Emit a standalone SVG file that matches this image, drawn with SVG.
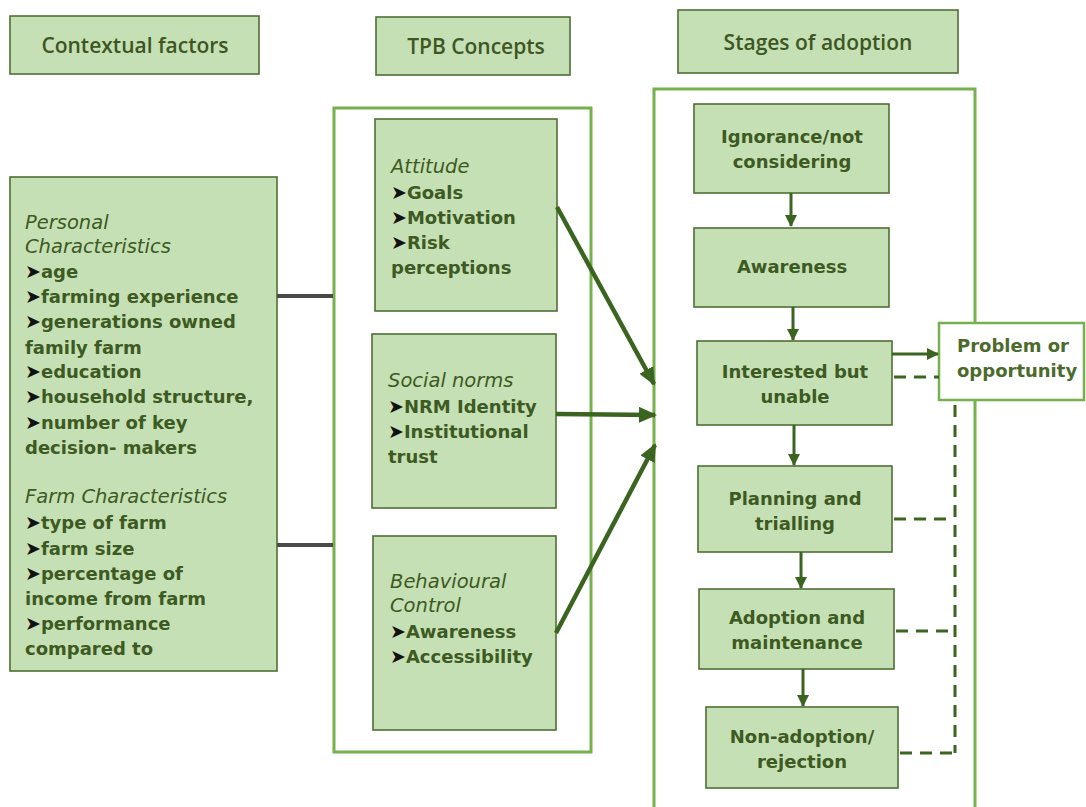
<svg xmlns="http://www.w3.org/2000/svg" width="1086" height="807" viewBox="0 0 1086 807">
<style>
.box{fill:#c5e0b4;stroke:#4f6f34;stroke-width:1.6}
.frame{fill:none;stroke:#76b04f;stroke-width:3}
.hdr{font-family:"Open Sans","Liberation Sans",sans-serif;font-size:21px;font-weight:600;fill:#3d5623;text-anchor:middle}
.t{font-family:"DejaVu Sans","Liberation Sans",sans-serif;font-size:18px;font-weight:bold;fill:#3d5a22}
.i{font-family:"DejaVu Sans","Liberation Sans",sans-serif;font-size:19.5px;font-style:italic;fill:#3d5a22}
.c{text-anchor:middle}
.b{fill:#111111;font-size:19px}
.gray{stroke:#4a4a4a;stroke-width:4;fill:none}
.big{stroke:#3b6420;stroke-width:4.5;fill:none}
.sm{stroke:#3b6420;stroke-width:3;fill:none}
.dash{stroke:#3b6420;stroke-width:3;fill:none;stroke-dasharray:12 8}
</style>
<defs>
<marker id="ah" markerUnits="userSpaceOnUse" markerWidth="18" markerHeight="16" refX="16" refY="8" orient="auto">
<path d="M0,0 L18,8 L0,16 Z" fill="#3b6420"/>
</marker>
<marker id="as" markerUnits="userSpaceOnUse" markerWidth="12" markerHeight="12" refX="11" refY="6" orient="auto">
<path d="M0,0 L12,6 L0,12 Z" fill="#3b6420"/>
</marker>
</defs>
<rect width="1086" height="807" fill="#ffffff"/>

<g id="hdr-context"><rect class="box" x="10" y="16" width="249" height="58"/><text class="hdr" x="135" y="53">Contextual factors</text></g>
<g id="hdr-tpb"><rect class="box" x="376" y="17" width="194" height="58"/><text class="hdr" x="476" y="54">TPB Concepts</text></g>
<g id="hdr-stages"><rect class="box" x="678" y="10" width="280" height="63"/><text class="hdr" x="818" y="50">Stages of adoption</text></g>

<g id="frame-tpb"><rect class="frame" x="334" y="108" width="257" height="644"/></g>
<g id="frame-stages"><path class="frame" d="M654,809 L654,89 L975,89 L975,809"/></g>

<g id="contextual">
<rect class="box" x="10" y="177" width="267" height="494"/>
<text class="i" x="25" y="229">Personal</text>
<text class="i" x="25" y="253">Characteristics</text>
<text class="t" x="25" y="278"><tspan class="b">➤</tspan>age</text>
<text class="t" x="25" y="303"><tspan class="b">➤</tspan>farming experience</text>
<text class="t" x="25" y="328"><tspan class="b">➤</tspan>generations owned</text>
<text class="t" x="25" y="354">family farm</text>
<text class="t" x="25" y="378"><tspan class="b">➤</tspan>education</text>
<text class="t" x="25" y="403"><tspan class="b">➤</tspan>household structure,</text>
<text class="t" x="25" y="429"><tspan class="b">➤</tspan>number of key</text>
<text class="t" x="25" y="454">decision- makers</text>
<text class="i" x="25" y="503">Farm Characteristics</text>
<text class="t" x="25" y="529"><tspan class="b">➤</tspan>type of farm</text>
<text class="t" x="25" y="555"><tspan class="b">➤</tspan>farm size</text>
<text class="t" x="25" y="580"><tspan class="b">➤</tspan>percentage of</text>
<text class="t" x="25" y="605">income from farm</text>
<text class="t" x="25" y="630"><tspan class="b">➤</tspan>performance</text>
<text class="t" x="25" y="655">compared to</text>
</g>

<g id="attitude">
<rect class="box" x="375" y="119" width="182" height="192"/>
<text class="i" x="391" y="173">Attitude</text>
<text class="t" x="391" y="199"><tspan class="b">➤</tspan>Goals</text>
<text class="t" x="391" y="224"><tspan class="b">➤</tspan>Motivation</text>
<text class="t" x="391" y="249"><tspan class="b">➤</tspan>Risk</text>
<text class="t" x="391" y="274">perceptions</text>
</g>

<g id="social-norms">
<rect class="box" x="372" y="334" width="184" height="174"/>
<text class="i" x="388" y="387">Social  norms</text>
<text class="t" x="388" y="413"><tspan class="b">➤</tspan>NRM Identity</text>
<text class="t" x="388" y="438"><tspan class="b">➤</tspan>Institutional</text>
<text class="t" x="388" y="463">trust</text>
</g>

<g id="behavioural-control">
<rect class="box" x="373" y="536" width="183" height="194"/>
<text class="i" x="390" y="588">Behavioural</text>
<text class="i" x="390" y="612">Control</text>
<text class="t" x="390" y="638"><tspan class="b">➤</tspan>Awareness</text>
<text class="t" x="390" y="663"><tspan class="b">➤</tspan>Accessibility</text>
</g>

<g id="ignorance">
<rect class="box" x="694" y="104" width="195" height="89"/>
<text class="t c" x="792" y="143">Ignorance/not</text>
<text class="t c" x="792" y="168">considering</text>
</g>
<g id="awareness">
<rect class="box" x="694" y="228" width="195" height="79"/>
<text class="t c" x="792" y="273">Awareness</text>
</g>
<g id="interested">
<rect class="box" x="697" y="341" width="195" height="84"/>
<text class="t c" x="795" y="378">Interested but</text>
<text class="t c" x="795" y="403">unable</text>
</g>
<g id="planning">
<rect class="box" x="698" y="466" width="194" height="86"/>
<text class="t c" x="795" y="505">Planning and</text>
<text class="t c" x="795" y="530">trialling</text>
</g>
<g id="adoption">
<rect class="box" x="699" y="589" width="195" height="80"/>
<text class="t c" x="797" y="624">Adoption and</text>
<text class="t c" x="797" y="649">maintenance</text>
</g>
<g id="non-adoption">
<rect class="box" x="706" y="707" width="192" height="81"/>
<text class="t c" x="802" y="743">Non-adoption/</text>
<text class="t c" x="802" y="768">rejection</text>
</g>
<g id="problem">
<rect x="939" y="323" width="145" height="77" fill="#ffffff" stroke="#76b04f" stroke-width="2.5"/>
<text class="t" x="957" y="352" style="fill:#4b6b2c">Problem or</text>
<text class="t" x="957" y="377" style="fill:#4b6b2c">opportunity</text>
</g>

<g id="connectors">
<line class="gray" x1="277" y1="296" x2="333" y2="296"/>
<line class="gray" x1="277" y1="545" x2="333" y2="545"/>
<line class="big" x1="557" y1="207" x2="654" y2="384" marker-end="url(#ah)"/>
<line class="big" x1="556" y1="414" x2="655" y2="415" marker-end="url(#ah)"/>
<line class="big" x1="556" y1="633" x2="655" y2="445" marker-end="url(#ah)"/>
<line class="sm" x1="791" y1="193" x2="791" y2="226" marker-end="url(#as)"/>
<line class="sm" x1="793" y1="307" x2="793" y2="340" marker-end="url(#as)"/>
<line class="sm" x1="794" y1="425" x2="794" y2="465" marker-end="url(#as)"/>
<line class="sm" x1="801" y1="552" x2="801" y2="588" marker-end="url(#as)"/>
<line class="sm" x1="803" y1="669" x2="803" y2="706" marker-end="url(#as)"/>
<line class="sm" x1="892" y1="354" x2="938" y2="354" marker-end="url(#as)"/>
<line class="dash" x1="894" y1="377" x2="939" y2="377"/>
<line class="dash" x1="955" y1="405" x2="955" y2="753"/>
<line class="dash" x1="894" y1="519" x2="948" y2="519"/>
<line class="dash" x1="896" y1="631" x2="955" y2="631"/>
<line class="dash" x1="900" y1="753" x2="955" y2="753"/>
</g>
</svg>
